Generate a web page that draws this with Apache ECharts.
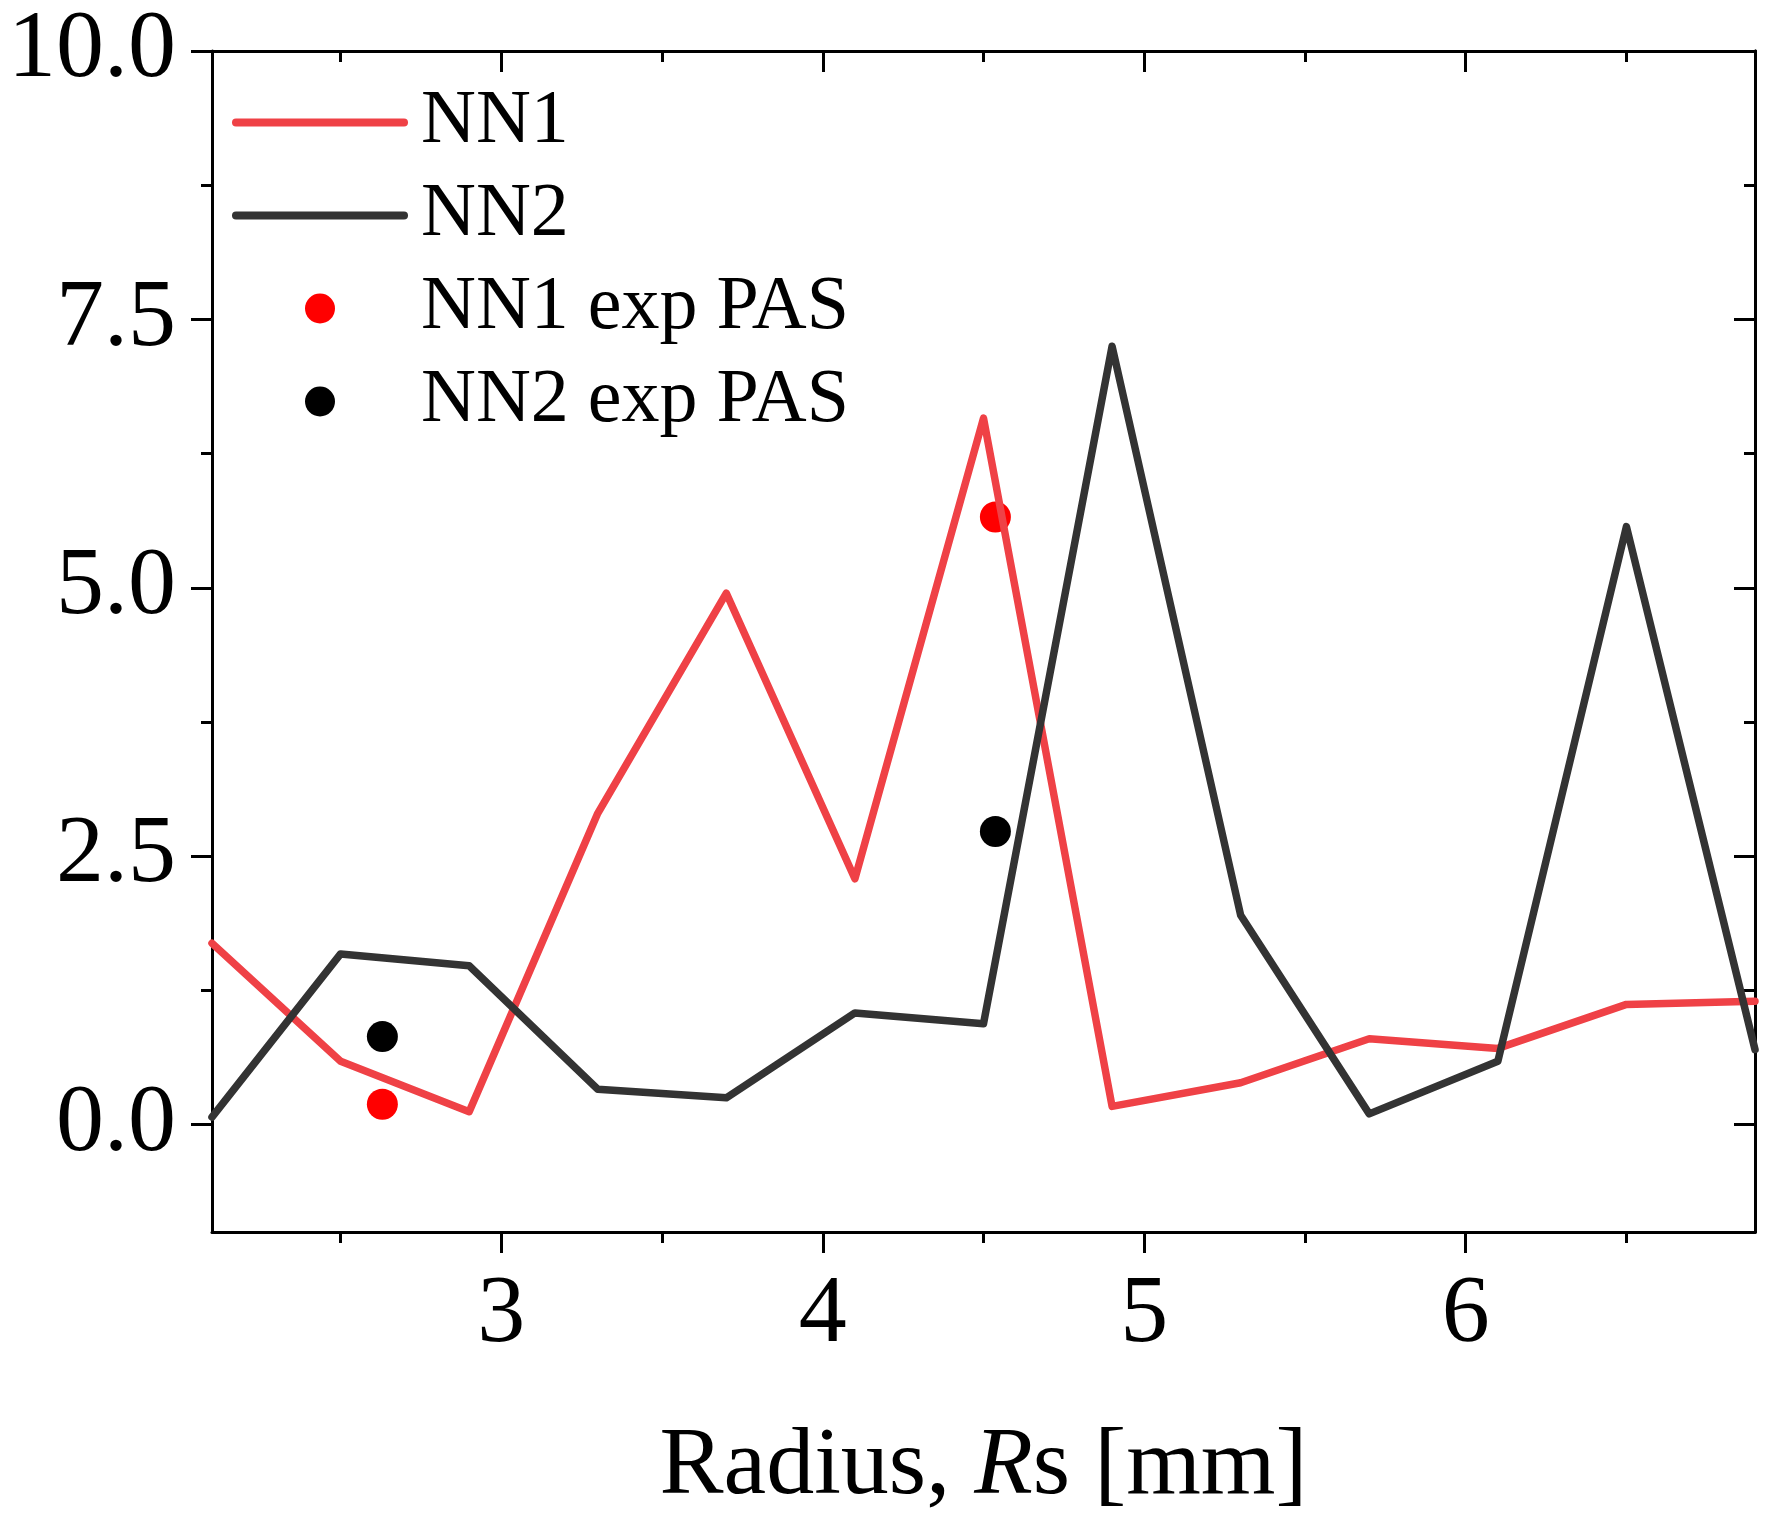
<!DOCTYPE html>
<html>
<head>
<meta charset="utf-8">
<script src="https://cdn.jsdelivr.net/npm/echarts@6/dist/echarts.min.js"></script>
<style>
  html, body { margin: 0; padding: 0; background: #fff; }
  #chart { width: 1777px; height: 1523px; }
</style>
</head>
<body>
<div id="chart"></div>
<script>
// values
var radius = [2.1, 2.5, 2.9, 3.3, 3.7, 4.1, 4.5, 4.9, 5.3, 5.7, 6.1, 6.5, 6.9];
var nn1 = [1.69, 0.59, 0.12, 2.90, 4.95, 2.29, 6.58, 0.17, 0.39, 0.80, 0.71, 1.12, 1.15];
var nn2 = [0.07, 1.59, 1.48, 0.33, 0.25, 1.04, 0.94, 7.25, 1.95, 0.10, 0.59, 5.57, 0.70];

var expRadius = [2.63, 4.537];
var nn1Exp = [0.19, 5.66];
var nn2Exp = [0.82, 2.73];

var xMajor = [3, 4, 5, 6];
var xMinor = [2.5, 3.5, 4.5, 5.5, 6.5];
var yMajor = [0, 2.5, 5, 7.5, 10];
var yMinor = [1.25, 3.75, 6.25, 8.75];

var FONT = 'Liberation Serif';
var RED = '#EF4146';
var DARK = '#333333';

function pairs(xs, ys) {
  return xs.map(function (x, i) { return [x, ys[i]]; });
}

// one axis per tick set: major/minor, on each side
function xAx(pos, ticks, len, inside, labels) {
  return {
    type: 'value', position: pos, min: 2.1, max: 6.9,
    axisLine: { show: labels || pos === 'top', onZero: false, lineStyle: { color: '#000', width: 3 } },
    axisTick: { customValues: ticks, length: len, inside: inside, lineStyle: { color: '#000', width: 3 } },
    axisLabel: labels ? {
      customValues: ticks, color: '#000', fontFamily: FONT, fontSize: 96, margin: 36,
      formatter: function (v) { return String(v); }
    } : { show: false },
    splitLine: { show: false }
  };
}
function yAx(pos, ticks, len, inside, labels) {
  return {
    type: 'value', position: pos, min: -1, max: 10,
    axisLine: { show: labels || pos === 'right', onZero: false, lineStyle: { color: '#000', width: 3 } },
    axisTick: { customValues: ticks, length: len, inside: inside, lineStyle: { color: '#000', width: 3 } },
    axisLabel: labels ? {
      customValues: ticks, color: '#000', fontFamily: FONT, fontSize: 96, margin: 36,
      formatter: function (v) { return v.toFixed(1); }
    } : { show: false },
    splitLine: { show: false }
  };
}

var xMain = xAx('bottom', xMajor, 21, false, true);
xMain.name = '{a|Radius, }{i|R}{a|s [mm]}';
xMain.nameLocation = 'middle';
xMain.nameGap = 188;
xMain.nameTextStyle = {
  rich: {
    a: { fontFamily: FONT, fontSize: 96, color: '#000' },
    i: { fontFamily: FONT, fontSize: 96, fontStyle: 'italic', color: '#000' }
  }
};

var chart = echarts.init(document.getElementById('chart'));
chart.setOption({
  backgroundColor: '#fff',
  animation: false,
  grid: { left: 212, right: 22, top: 51, bottom: 291 },
  legend: {
    left: 227, top: 71, orient: 'vertical',
    itemWidth: 168, itemHeight: 30, itemGap: 0,
    textStyle: { fontFamily: FONT, fontSize: 76, color: '#000', lineHeight: 93, padding: [0, 0, 0, 12] },
    data: [
      { name: 'NN1', itemStyle: { opacity: 0 }, lineStyle: { color: RED, width: 8, cap: 'round' } },
      { name: 'NN2', itemStyle: { opacity: 0 }, lineStyle: { color: DARK, width: 8, cap: 'round' } },
      { name: 'NN1 exp PAS' },
      { name: 'NN2 exp PAS' }
    ]
  },
  xAxis: [
    xMain,
    xAx('bottom', xMinor, 11, false, false),
    xAx('top', xMajor, 21, true, false),
    xAx('top', xMinor, 11, true, false)
  ],
  yAxis: [
    yAx('left', yMajor, 21, false, true),
    yAx('left', yMinor, 11, false, false),
    yAx('right', yMajor, 21, true, false),
    yAx('right', yMinor, 11, true, false)
  ],
  series: [
    {
      name: 'NN1', type: 'line', data: pairs(radius, nn1), symbol: 'none',
      itemStyle: { color: RED },
      lineStyle: { color: RED, width: 7.5, join: 'round', cap: 'round' }
    },
    {
      name: 'NN2', type: 'line', data: pairs(radius, nn2), symbol: 'none',
      itemStyle: { color: DARK },
      lineStyle: { color: DARK, width: 7.5, join: 'round', cap: 'round' }
    },
    {
      name: 'NN1 exp PAS', type: 'scatter', data: pairs(expRadius, nn1Exp),
      symbol: 'circle', symbolSize: 31, itemStyle: { color: '#FF0000', opacity: 1 }
    },
    {
      name: 'NN2 exp PAS', type: 'scatter', data: pairs(expRadius, nn2Exp),
      symbol: 'circle', symbolSize: 31, itemStyle: { color: '#000000', opacity: 1 }
    }
  ]
});
</script>
</body>
</html>
